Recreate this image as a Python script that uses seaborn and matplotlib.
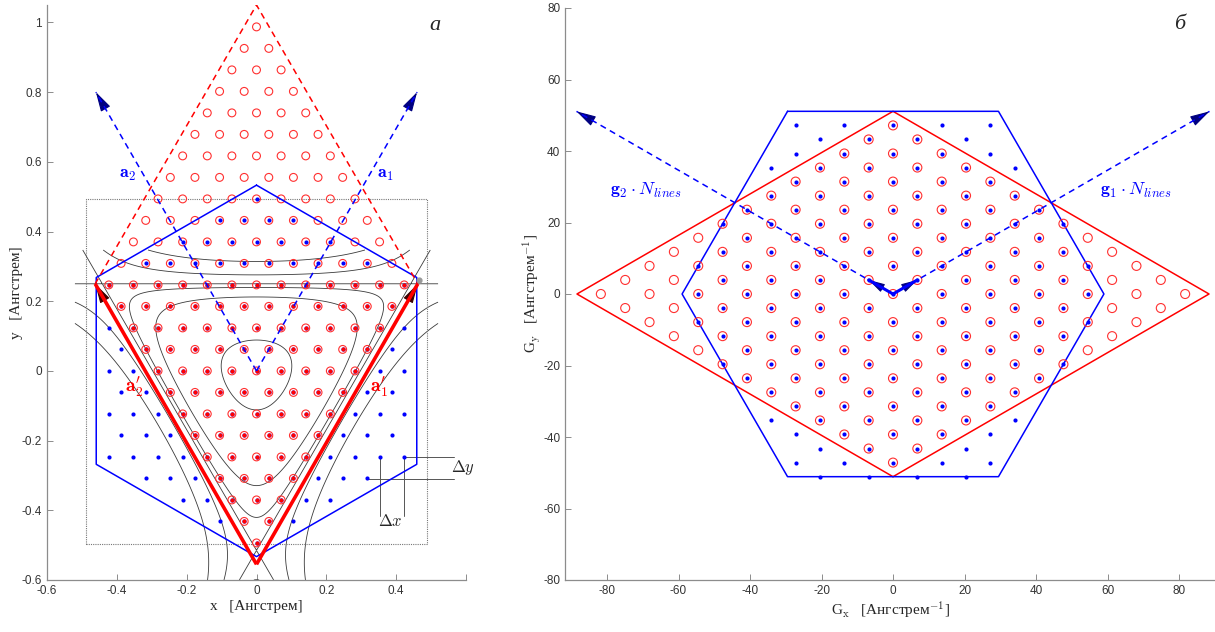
import numpy as np
import pandas as pd
import matplotlib
matplotlib.use("Agg")
import matplotlib.pyplot as plt
from matplotlib.path import Path
import seaborn as sns

# ---------------- panel a : real space ----------------
lat_a_dx = 0.0705                 # step along a row
lat_a_dy = 0.0617                 # step between rows
lat_a_rows = np.arange(-8, 17)    # row index k  (y = k*dy)
lat_a_cols = np.arange(-8, 9)
cell_n = 13                       # 13 x 13 points in the cell

rhomb_a_x = [0.0, 0.462, 0.0, -0.462]
rhomb_a_y = [-0.555, 0.25, 1.05, 0.25]
hex_a_x = [0.0, 0.459, 0.459, 0.0, -0.459, -0.459, 0.0]
hex_a_y = [0.533, 0.268, -0.268, -0.533, -0.268, 0.268, 0.533]
box_a_x = [-0.489, 0.489, 0.489, -0.489, -0.489]
box_a_y = [-0.496, -0.496, 0.494, 0.494, -0.496]
a_tip_x = [0.46, -0.46]
a_tip_y = [0.80, 0.80]

# potential contours (three straight zero lines of the cell triangle)
tri_bottom_y = -0.515
tri_top_y = 0.25
contour_levels = [-0.0147, -0.005, -0.0015, 0.0, 0.004, 0.011]
contour_xlim = (-0.52, 0.52)
contour_ylim = (-0.6, 0.347)

# Delta x / Delta y markers
dy_pts_x = [0.423, 0.317]
dy_pts_y = [-0.247, -0.309]
dx_pts_x = [0.3525, 0.423]
dx_pts_y = [-0.247, -0.247]

# ---------------- panel b : reciprocal space ----------------
lat_b_dx = 6.81
lat_b_dy = 3.93
lat_b_cols = np.arange(-13, 14)
lat_b_rows = np.arange(-14, 15)
rhomb_b_x = [0.0, 88.4, 0.0, -88.4, 0.0]
rhomb_b_y = [-51.1, 0.0, 51.1, 0.0, -51.1]
hex_b_R = 59.0
hex_b_x = [-29.5, 29.5, 59.0, 29.5, -29.5, -59.0, -29.5]
hex_b_y = [51.1, 51.1, 0.0, -51.1, -51.1, 0.0, 51.1]
g_unit = (6.81, 3.93)
n_lines = 13


def cell_points(n, ex, ey, y0):
    idx = np.arange(n)
    nn, mm = np.meshgrid(idx, idx)
    nn, mm = nn.ravel(), mm.ravel()
    return pd.DataFrame({"x": (nn - mm) * ex, "y": y0 + (nn + mm) * ey, "s": nn + mm})


def inside(px, py, vx, vy, shrink):
    poly = Path(np.column_stack([np.array(vx) * shrink, np.array(vy) * shrink]))
    return poly.contains_points(np.column_stack([px, py]))


def head(ax, tail, tip, color, scale=10):
    ax.annotate("", xy=tip, xytext=tail,
                arrowprops=dict(arrowstyle="-|>,head_length=1.1,head_width=0.3",
                                color=color, lw=0.8, mutation_scale=scale,
                                shrinkA=0, shrinkB=0))


sns.set_style("ticks")
plt.rcParams["font.family"] = ["Liberation Sans", "DejaVu Sans"]
plt.rcParams["mathtext.fontset"] = "cm"
plt.rcParams["axes.unicode_minus"] = False

fig = plt.figure(figsize=(12.15, 6.32), dpi=100)
ax1 = fig.add_axes([47 / 1215, 1 - 580 / 632, 419 / 1215, 575 / 632])
ax2 = fig.add_axes([565 / 1215, 1 - 580 / 632, 650 / 1215, 572 / 632])

red_c = "#ff3030"
blue = "#0000ff"

# ---- panel a ----
ax = ax1
X, Y = np.meshgrid(np.linspace(*contour_xlim, 500), np.linspace(*contour_ylim, 500))
L1 = 0.866 * X + 0.5 * (Y - tri_bottom_y)
L2 = -0.866 * X + 0.5 * (Y - tri_bottom_y)
F = L1 * L2 * (Y - tri_top_y)
F_neg = np.where((Y > tri_top_y) & ((L1 < 0) | (L2 < 0)), np.nan, F)
neg = [c for c in contour_levels if c < 0]
pos = [c for c in contour_levels if c >= 0]
ax.contour(X, Y, F_neg, levels=neg, colors="#3a3a3a", linewidths=0.6, linestyles="solid")
ax.contour(X, Y, F, levels=pos, colors="#3a3a3a", linewidths=0.6, linestyles="solid")

ax.plot(box_a_x, box_a_y, ls=(0, (1, 1)), color="#777777", lw=0.8)

cell_a = cell_points(cell_n, lat_a_dx / 2, lat_a_dy, -8 * lat_a_dy)
rows = []
for k in lat_a_rows:
    for j in lat_a_cols:
        rows.append(((j + (k % 2) / 2) * lat_a_dx, k * lat_a_dy))
grid_a = pd.DataFrame(rows, columns=["x", "y"])
blue_a = grid_a[inside(grid_a.x, grid_a.y, hex_a_x, hex_a_y, 0.985)]
reddot_a = cell_a[cell_a.s <= cell_n - 1]

sns.scatterplot(data=cell_a, x="x", y="y", ax=ax, s=32, marker="o",
                facecolors="none", edgecolor=red_c, linewidth=0.8, zorder=3)
sns.scatterplot(data=blue_a, x="x", y="y", ax=ax, s=9, color=blue,
                linewidth=0, zorder=4)
sns.scatterplot(data=reddot_a, x="x", y="y", ax=ax, s=9, color="#ff0000",
                linewidth=0, zorder=5)

ax.plot(hex_a_x, hex_a_y, color=blue, lw=1.1, zorder=6)
# red cell: solid lower edges (vectors a'), dashed upper edges
ax.plot([rhomb_a_x[3], rhomb_a_x[2], rhomb_a_x[1]], [rhomb_a_y[3], rhomb_a_y[2], rhomb_a_y[1]],
        color="#ff0000", lw=1.1, ls=(0, (4, 3)), zorder=6)
for i in (1, 3):
    ax.plot([rhomb_a_x[0], rhomb_a_x[i]], [rhomb_a_y[0], rhomb_a_y[i]],
            color="#ff0000", lw=2.6, zorder=7, solid_capstyle="butt")
    d = np.array([rhomb_a_x[i] - rhomb_a_x[0], rhomb_a_y[i] - rhomb_a_y[0]])
    tip = np.array([rhomb_a_x[i], rhomb_a_y[i]])
    head(ax, tip - 0.06 * d, tip, "#3a0000", scale=11)
for tx, ty in zip(a_tip_x, a_tip_y):
    ax.plot([0, tx], [0, ty], color=blue, lw=1.1, ls=(0, (4, 3)), zorder=6)
    tip = np.array([tx, ty])
    head(ax, tip * 0.94, tip, "#000080", scale=11)

ax.scatter([0.465], [0.262], s=12, color="#999999", zorder=8)

for px, py in zip(dy_pts_x, dy_pts_y):
    ax.plot([px, 0.566], [py, py], color="#555555", lw=0.7)
for px, py in zip(dx_pts_x, dx_pts_y):
    ax.plot([px, px], [py, -0.417], color="#555555", lw=0.7)
ax.text(0.59, -0.277, r"$\Delta y$", fontsize=12, ha="center", va="center")
ax.text(0.382, -0.43, r"$\Delta x$", fontsize=12, ha="center", va="center")

ax.text(-0.37, 0.563, r"$\mathbf{a}_2$", color=blue, fontsize=13, ha="center", va="center")
ax.text(0.37, 0.563, r"$\mathbf{a}_1$", color=blue, fontsize=13, ha="center", va="center")
ax.text(-0.35, -0.045, r"$\mathbf{a}_2^{\prime}$", color="#ff0000", fontsize=14, ha="center", va="center")
ax.text(0.35, -0.045, r"$\mathbf{a}_1^{\prime}$", color="#ff0000", fontsize=14, ha="center", va="center")
ax.text(0.51, 0.99, "a", fontsize=16, style="italic", family="Liberation Serif",
        ha="center", va="center")

ax.set_xlim(-0.6, 0.6)
ax.set_ylim(-0.6, 1.05)
ax.set_xticks(np.round(np.arange(-0.6, 0.61, 0.2), 1))
ax.set_xticklabels(["-0.6", "-0.4", "-0.2", "0", "0.2", "0.4", ""])
ax.set_yticks(np.round(np.arange(-0.6, 1.01, 0.2), 1))
ax.set_yticklabels(["-0.6", "-0.4", "-0.2", "0", "0.2", "0.4", "0.6", "0.8", "1"])
ax.set_xlabel("x   [Ангстрем]", family="Liberation Serif", fontsize=11, labelpad=2)
ax.set_ylabel("y   [Ангстрем]", family="Liberation Serif", fontsize=11, labelpad=-1)

# ---- panel b ----
ax = ax2
cell_b = cell_points(cell_n, lat_b_dx, lat_b_dy, -12 * lat_b_dy)
rows = []
for j in lat_b_cols:
    for i in lat_b_rows:
        if (i + j) % 2 == 0:
            rows.append((j * lat_b_dx, i * lat_b_dy))
grid_b = pd.DataFrame(rows, columns=["x", "y"])
edge = np.abs(grid_b.x) + np.abs(grid_b.y) / np.sqrt(3)
keep = ((edge < hex_b_R - 0.3) | ((edge < hex_b_R + 0.3) & (np.abs(grid_b.y) < 25))) \
    & (grid_b.y < 50.5) & (grid_b.y > -51.5)
blue_b = grid_b[keep]

ax.plot(rhomb_b_x, rhomb_b_y, color="#ff0000", lw=1.1, zorder=2)
ax.plot(hex_b_x, hex_b_y, color=blue, lw=1.1, zorder=2)
sns.scatterplot(data=cell_b, x="x", y="y", ax=ax, s=42, marker="o",
                facecolors="none", edgecolor=red_c, linewidth=0.8, zorder=3)
sns.scatterplot(data=blue_b, x="x", y="y", ax=ax, s=9, color=blue,
                linewidth=0, zorder=4)

for sgn in (1, -1):
    tip = np.array([sgn * g_unit[0] * n_lines, g_unit[1] * n_lines])
    ax.plot([0, tip[0]], [0, tip[1]], color=blue, lw=1.1, ls=(0, (4, 3)), zorder=5)
    head(ax, tip * 0.955, tip, "#000080", scale=11)
    g = np.array([sgn * g_unit[0], g_unit[1]])
    ax.plot([0, g[0]], [0, g[1]], color=blue, lw=2.2, zorder=6)
    head(ax, g * 0.5, g, "#000080", scale=9)

ax.text(-69, 29, r"$\mathbf{g}_2\cdot N_{lines}$", color=blue, fontsize=13, ha="center", va="center")
ax.text(68, 29, r"$\mathbf{g}_1\cdot N_{lines}$", color=blue, fontsize=13, ha="center", va="center")
ax.text(80.3, 75.5, "б", fontsize=16, style="italic",
        family="Liberation Serif", ha="center", va="center")

ax.set_xlim(-91.75, 90.07)
ax.set_ylim(-80, 80)
ax.set_xticks(np.arange(-80, 81, 20))
ax.set_yticks(np.arange(-80, 81, 20))
ax.set_xlabel(r"G$_\mathrm{x}$   [Ангстрем$^\mathrm{-1}$]", family="Liberation Serif",
              fontsize=11, labelpad=2)
ax.set_ylabel(r"G$_\mathrm{y}$   [Ангстрем$^\mathrm{-1}$]", family="Liberation Serif",
              fontsize=11, labelpad=0)

for ax in (ax1, ax2):
    sns.despine(ax=ax)
    for s in ("left", "bottom"):
        ax.spines[s].set_color("#8c8c8c")
        ax.spines[s].set_linewidth(0.9)
    ax.tick_params(direction="in", length=4, width=0.7, color="#8c8c8c",
                   labelsize=8.5, labelcolor="#333333")
    ax.set_facecolor("none")

fig.savefig("out.png", dpi=100)
